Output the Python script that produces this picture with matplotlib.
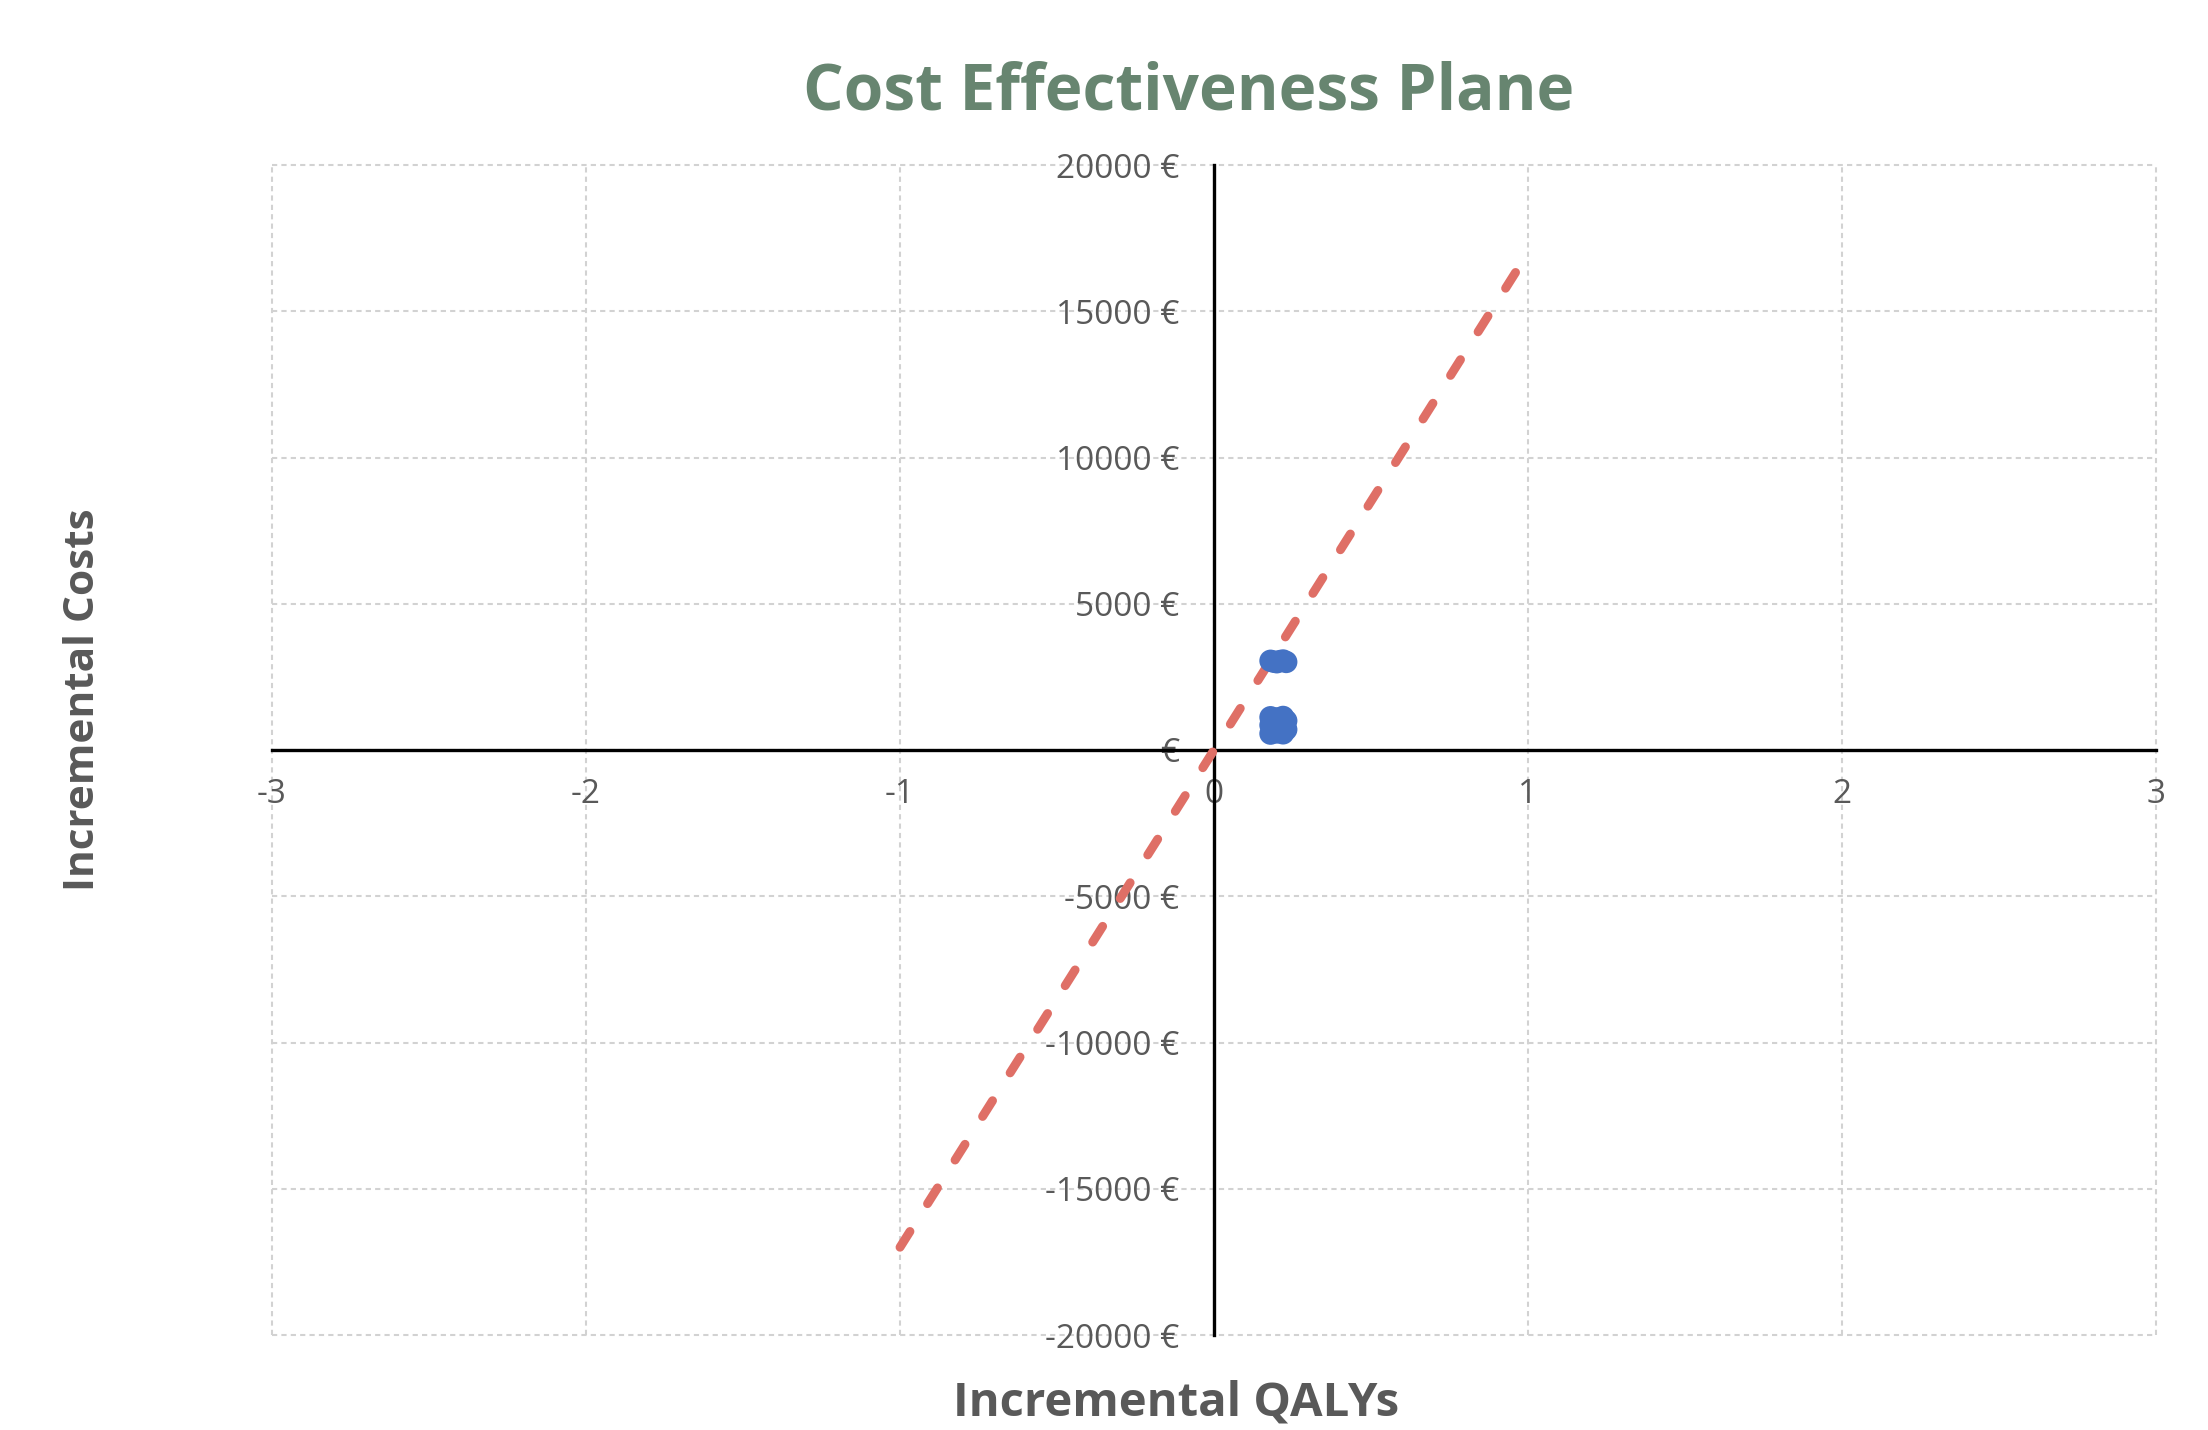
import numpy as np
import matplotlib.pyplot as plt
from matplotlib.ticker import FuncFormatter

# incremental QALYs / costs from the simulation runs
d_qaly = [0.18, 0.20, 0.22, 0.19, 0.21, 0.23,
          0.18, 0.20, 0.22, 0.18, 0.20, 0.22, 0.18, 0.20, 0.22,
          0.19, 0.21, 0.23, 0.19, 0.21, 0.23]
d_cost = [3050, 3000, 3060, 3020, 3040, 3010,
          1120, 1080, 1130, 560, 600, 570, 850, 800, 830,
          950, 700, 1000, 650, 900, 700]

# willingness-to-pay threshold line through the origin
wtp_x = [-1, 1]
wtp_y = [-17000, 17000]

x_ticks = [-3, -2, -1, 0, 1, 2, 3]
y_ticks = [-20000, -15000, -10000, -5000, 0, 5000, 10000, 15000, 20000]

grey = '#595959'
plt.rcParams['font.family'] = ['Open Sans', 'DejaVu Sans']

fig = plt.figure(figsize=(22.08, 14.30), dpi=100)
ax = fig.add_axes([272/2208, 1 - 1335/1430, (2156-272)/2208, (1335-165)/1430])

ax.plot(wtp_x, wtp_y, color='#df6f66', lw=6.4, dashes=(2.1, 3.7),
        dash_capstyle='round', zorder=3)
ax.scatter(d_qaly, d_cost, s=260, color='#4472c4', edgecolors='none', zorder=4)

ax.set_xlim(-3, 3)
ax.set_ylim(-20000, 20000)
ax.set_xticks(x_ticks)
ax.set_yticks(y_ticks)
ax.yaxis.set_major_formatter(FuncFormatter(lambda v, p: '€' if v == 0 else f'{v:.0f} €'))
ax.xaxis.set_major_formatter(FuncFormatter(lambda v, p: f'{v:.0f}'))

for side in ['top', 'right']:
    ax.spines[side].set_visible(False)
for side in ['left', 'bottom']:
    ax.spines[side].set_position(('data', 0))
    ax.spines[side].set_linewidth(2.4)
    ax.spines[side].set_color('black')
    ax.spines[side].set_zorder(2)

ax.tick_params(axis='both', length=0, labelsize=24, labelcolor=grey)
ax.tick_params(axis='y', pad=25)
ax.tick_params(axis='x', pad=20)

ax.grid(True, color='#d2d2d2', lw=1.5, linestyle=(0, (2.5, 2)))
for gl in ax.get_xgridlines() + ax.get_ygridlines():
    gl.set_clip_on(False)
ax.set_axisbelow(True)

fig.text(1189/2208, 1 - 93/1430, 'Cost Effectiveness Plane', ha='center', va='center',
         fontsize=46, fontweight='bold', color='#678570')
fig.text(1176/2208, 1 - 1403/1430, 'Incremental QALYs', ha='center', va='center',
         fontsize=34, fontweight='bold', color=grey)
fig.text(84/2208, 1 - 700/1430, 'Incremental Costs', ha='center', va='center',
         rotation=90, fontsize=30.5, fontweight='bold', color=grey)

fig.savefig('out.png', dpi=100, facecolor='white')
